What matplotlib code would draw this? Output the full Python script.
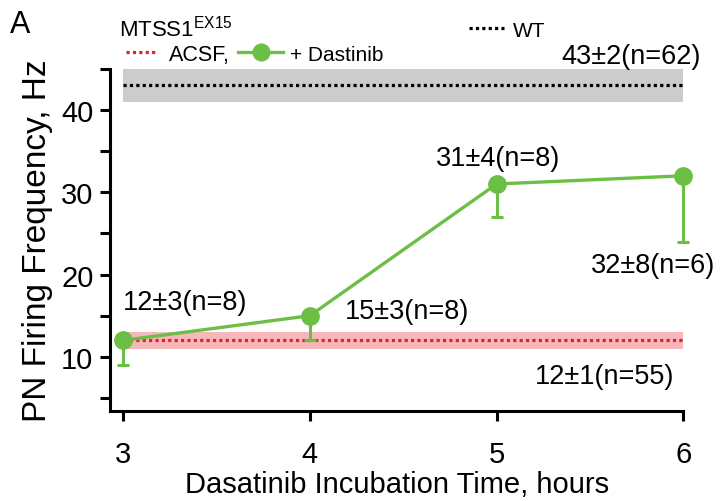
import matplotlib
matplotlib.use("Agg")
import matplotlib.pyplot as plt
from matplotlib.lines import Line2D
from matplotlib.ticker import MultipleLocator

plt.rcParams['font.family'] = ['Liberation Sans', 'DejaVu Sans']

# data
hours = [3, 4, 5, 6]
dast_mean = [12, 15, 31, 32]
dast_err = [3, 3, 4, 8]
dast_labels = ['12±3(n=8)', '15±3(n=8)', '31±4(n=8)', '32±8(n=6)']
label_pos = [(3.33, 16.7), (4.52, 15.6), (5.01, 34.1), (5.84, 21.2)]

wt_mean, wt_err, wt_label = 43, 2, '43±2(n=62)'
acsf_mean, acsf_err, acsf_label = 12, 1, '12±1(n=55)'

green = '#6cbf45'
red = '#e3202b'

fig = plt.figure(figsize=(7.2, 5.02), dpi=100)
ax = fig.add_axes([0.153, 0.179, 0.796, 0.682])

# WT band and line
ax.fill_between([hours[0], hours[-1]], wt_mean - wt_err, wt_mean + wt_err,
                color='#cccccc', lw=0)
ax.plot([hours[0], hours[-1]], [wt_mean, wt_mean], color='black',
        ls=(0, (1, 1)), lw=2.3)
# ACSF band and line
ax.fill_between([hours[0], hours[-1]], acsf_mean - acsf_err, acsf_mean + acsf_err,
                color='#f7b8bb', lw=0)
ax.plot([hours[0], hours[-1]], [acsf_mean, acsf_mean], color=red,
        ls=(0, (1, 1)), lw=2.3)

# dasatinib series, lower error bars only
eb = ax.errorbar(hours, dast_mean, yerr=[dast_err, [0] * len(dast_err)],
                 color=green, lw=2.4, marker='o', ms=12.5, elinewidth=2.2,
                 capsize=4.5, capthick=2.2, zorder=5)
for art in eb.lines[0:1] + tuple(eb.lines[1]) + tuple(eb.lines[2]):
    art.set_clip_on(False)

for (x, y), s in zip(label_pos, dast_labels):
    ax.text(x, y, s, ha='center', va='center', fontsize=19.5)
ax.text(5.72, 46.6, wt_label, ha='center', va='center', fontsize=19.5, clip_on=False)
ax.text(5.58, 7.7, acsf_label, ha='center', va='center', fontsize=19.5)

ax.set_xlim(2.93, 6.0)
ax.set_ylim(3.4, 45)
ax.set_xticks(hours)
ax.yaxis.set_major_locator(MultipleLocator(10))
ax.yaxis.set_minor_locator(MultipleLocator(5))
ax.set_yticks([10, 20, 30, 40])
ax.spines[['top', 'right']].set_visible(False)
for s in ['left', 'bottom']:
    ax.spines[s].set_linewidth(2.2)
ax.tick_params(which='major', length=7, width=2.2, labelsize=21, pad=5)
ax.tick_params(which='minor', length=7, width=2.2)
ax.tick_params(axis='x', pad=14)

ax.set_xlabel('Dasatinib Incubation Time, hours', fontsize=21, labelpad=1)
ax.set_ylabel('PN Firing Frequency, Hz', fontsize=24, labelpad=6)

# legend-like header
fig.text(0.014, 0.935, 'A', fontsize=22)
fig.text(0.165, 0.928, r'MTSS1$^{\mathregular{EX15}}$', fontsize=16)
h_acsf = Line2D([], [], color=red, ls=(0, (1, 1)), lw=2.3)
h_dast = Line2D([], [], color=green, lw=2.4, marker='o', ms=12)
h_wt = Line2D([], [], color='black', ls=(0, (1, 1)), lw=2.3)
fig.legend([h_acsf], ['ACSF,'], frameon=False,
           loc='center left', bbox_to_anchor=(0.148, 0.89), fontsize=15.5,
           handlelength=1.4, handletextpad=0.6)
fig.legend([h_dast], ['+ Dastinib'], frameon=False,
           loc='center left', bbox_to_anchor=(0.304, 0.89), fontsize=15,
           handlelength=2.2, handletextpad=0.3)
fig.legend([h_wt], ['WT'], frameon=False, loc='center left',
           bbox_to_anchor=(0.625, 0.938), fontsize=15, handlelength=1.7,
           handletextpad=0.4)

fig.savefig('out.png', dpi=100)
